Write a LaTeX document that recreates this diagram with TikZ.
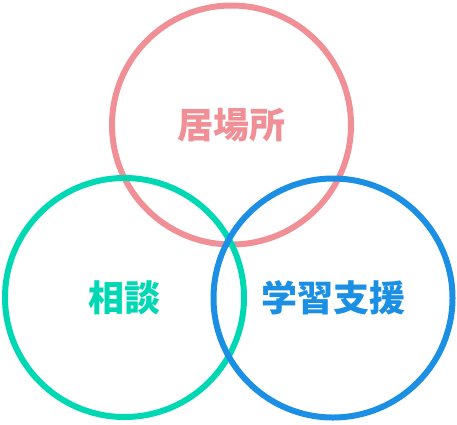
\documentclass[tikz,border=0pt]{standalone}
\usepackage{fontspec}
\newfontfamily\cjk{Noto Sans CJK JP}
\usetikzlibrary{positioning}
\definecolor{ibashoc}{HTML}{F09096}
\definecolor{soudanc}{HTML}{00D8B4}
\definecolor{gakushuc}{HTML}{1A8FE3}

\begin{document}
\begin{tikzpicture}[x=1pt, y=-1pt]

        % Ring definitions
        \tikzstyle{ring} = [circle, line width=6pt, minimum size=239pt, inner sep=0pt, align=center, font=\cjk\bfseries\fontsize{36}{40}\selectfont]

        \useasboundingbox (0,0) rectangle (457,424);

        % Rings
        \node[ring, draw=ibashoc, text=ibashoc] (ibasho) at (231.5,125) {居場所};
        \node[ring, draw=soudanc, text=soudanc] (soudan) at (124.5,297.5) {相談};
        \node[ring, draw=gakushuc, text=gakushuc] (gakushu) at (333,298) {学習支援};

\end{tikzpicture}
\end{document}
